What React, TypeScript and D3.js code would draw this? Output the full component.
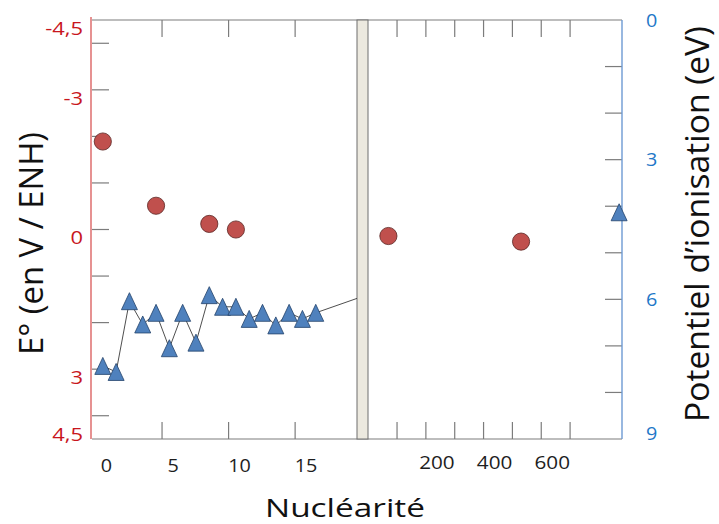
import React from 'react';
import * as d3 from 'd3';

// Ag_n clusters: ionisation potential (triangles, right axis) and E° (circles, left axis)
const nucSmall = [1, 2, 3, 4, 5, 6, 7, 8, 9, 10, 11, 12, 13, 14, 15, 16, 17];
const ipSmall = [7.43, 7.56, 6.04, 6.54, 6.29, 7.05, 6.29, 6.93, 5.91, 6.16, 6.16, 6.42, 6.29, 6.56, 6.29, 6.42, 6.29];
const ipAtBreak = 5.98; // the line heads on past the break
const nucCircSmall = [1, 5, 9, 11];
const eCircSmall = [-1.89, -0.51, -0.12, 0.0];
const nucCircLarge = [70, 530];
const eCircLarge = [0.14, 0.26];
const nucBulk = [870];
const ipBulk = [4.13];

const xTicksSmall = [5, 10, 15];
const xLabelsSmall = [0, 5, 10, 15];
const xTicksLarge = [100, 200, 300, 400, 500, 600, 700];
const xLabelsLarge = [200, 400, 600];
const eTicks = [-4, -3, -2, -1, 0, 1, 2, 3, 4];
const eLabels = [-4.5, -3, 0, 3, 4.5];
const ipTicks = [1, 2, 3, 4, 5, 6, 7, 8];
const ipLabels = [0, 3, 6, 9];

const W = 719;
const H = 524;
const top = 20;
const bottom = 439;
const frameLeft = 92;
const breakL = 357;
const breakR = 368;
const frameRight = 622;

const RED = '#c8161d';
const BLUE = '#1f78c8';
const GRID = '#7c7c7c';
const FONT = '"Open Sans", sans-serif';

const xSmall = d3.scaleLinear().domain([0, 20.1]).range([89.5, breakL]);
const xLarge = d3.scaleLinear().domain([0, 880]).range([breakR + 0.2, frameRight]);
const yE = d3.scaleLinear().domain([-4.5, 4.5]).range([top, bottom]);
const yIP = d3.scaleLinear().domain([0, 9]).range([top, bottom]);

const triW = 16;
const triH = 17;
const triPath = `M0,${-triH / 2}L${triW / 2},${triH / 2}L${-triW / 2},${triH / 2}Z`;

const fmt = (v: number) => String(v).replace('.', ',');

const Tri = ({ x, y }: { x: number; y: number }) => (
  <path d={triPath} transform={`translate(${x},${y})`} fill="#4f81bd" stroke="#23426b" strokeWidth={0.8} />
);
const Dot = ({ x, y }: { x: number; y: number }) => (
  <circle cx={x} cy={y} r={8.6} fill="#c0504d" stroke="#5a2422" strokeWidth={0.8} />
);

export default function App() {
  const linePts: [number, number][] = nucSmall.map((n, i) => [xSmall(n), yIP(ipSmall[i])]);
  linePts.push([xSmall(20.1), yIP(ipAtBreak)]);
  const line = d3.line();

  const tickLen = 17;
  const xTickShift = 6;
  const xLabelShift = 17;
  const xLabelLargeShift = 11;

  return (
    <svg width={W} height={H} style={{ position: 'absolute', left: 0, top: 0, background: '#fff' }} fontFamily={FONT}>
      {/* frame */}
      <line x1={frameLeft} x2={frameRight} y1={top} y2={top} stroke={GRID} strokeWidth={1.2} />
      <line x1={frameLeft} x2={frameRight} y1={bottom} y2={bottom} stroke={GRID} strokeWidth={1.2} />

      {/* break bar */}
      <rect x={breakL} y={top} width={breakR - breakL} height={bottom - top} fill="#ece9df" stroke="#6e6e6e" strokeWidth={1} />

      {/* x ticks, top and bottom */}
      {xTicksSmall.map((v) => (
        <g key={'xs' + v}>
          <line x1={xSmall(v) + xTickShift} x2={xSmall(v) + xTickShift} y1={top} y2={top + tickLen} stroke={GRID} strokeWidth={1.2} />
          <line x1={xSmall(v) + xTickShift} x2={xSmall(v) + xTickShift} y1={bottom} y2={bottom - tickLen} stroke={GRID} strokeWidth={1.2} />
        </g>
      ))}
      {xTicksLarge.map((v) => (
        <g key={'xl' + v}>
          <line x1={xLarge(v)} x2={xLarge(v)} y1={top} y2={top + tickLen} stroke={GRID} strokeWidth={1.2} />
          <line x1={xLarge(v)} x2={xLarge(v)} y1={bottom} y2={bottom - tickLen} stroke={GRID} strokeWidth={1.2} />
        </g>
      ))}

      {/* y ticks */}
      {eTicks.map((v) => (
        <line key={'e' + v} x1={frameLeft} x2={frameLeft + tickLen} y1={yE(v)} y2={yE(v)} stroke={GRID} strokeWidth={1.2} />
      ))}
      {ipTicks.map((v) => (
        <line key={'ip' + v} x1={frameRight - tickLen} x2={frameRight} y1={yIP(v)} y2={yIP(v)} stroke={GRID} strokeWidth={1.2} />
      ))}

      {/* axis lines */}
      <line x1={91} x2={91} y1={17} y2={bottom} stroke="#e07676" strokeWidth={1.6} />
      <line x1={frameRight} x2={frameRight} y1={top} y2={bottom} stroke="#6d9ad3" strokeWidth={1.4} />

      {/* data */}
      <path d={line(linePts) || ''} fill="none" stroke="#3a3a3a" strokeWidth={0.9} />
      {nucCircSmall.map((n, i) => (
        <Dot key={'cs' + i} x={xSmall(n)} y={yE(eCircSmall[i])} />
      ))}
      {nucCircLarge.map((n, i) => (
        <Dot key={'cl' + i} x={xLarge(n)} y={yE(eCircLarge[i])} />
      ))}
      {nucSmall.map((n, i) => (
        <Tri key={'t' + i} x={xSmall(n)} y={yIP(ipSmall[i])} />
      ))}
      {nucBulk.map((n, i) => (
        <Tri key={'tb' + i} x={xLarge(n)} y={yIP(ipBulk[i])} />
      ))}

      {/* tick labels */}
      {xLabelsSmall.map((v) => (
        <text key={'lxs' + v} transform={`translate(${xSmall(v) + xLabelShift},472) scale(1.1,1)`} textAnchor="middle" fontSize={18} fill="#1e1e1e">
          {v}
        </text>
      ))}
      {xLabelsLarge.map((v) => (
        <text key={'lxl' + v} transform={`translate(${xLarge(v) + xLabelLargeShift},469) scale(1.15,1)`} textAnchor="middle" fontSize={18} fill="#1e1e1e">
          {v}
        </text>
      ))}
      {eLabels.map((v) => (
        <text key={'le' + v} transform={`translate(83,${Math.min(yE(v) + 8, 434)}) scale(1.22,1)`} textAnchor="end" dominantBaseline="central" fontSize={18} fill={RED}>
          {fmt(v)}
        </text>
      ))}
      {ipLabels.map((v) => (
        <text key={'lip' + v} transform={`translate(646,${Math.min(yIP(v), 433)}) scale(1.1,1)`} textAnchor="start" dominantBaseline="central" fontSize={18} fill={BLUE}>
          {v}
        </text>
      ))}

      {/* titles */}
      <text x={345} y={517} textAnchor="middle" fontSize={25} fill="#111" textLength={160} lengthAdjust="spacingAndGlyphs">
        Nucléarité
      </text>
      <text transform="translate(43,243.5) rotate(-90)" textAnchor="middle" fontSize={33} fill="#111" textLength={223} lengthAdjust="spacingAndGlyphs">
        E° (en V / ENH)
      </text>
      <text transform="translate(709,224) rotate(-90)" textAnchor="middle" fontSize={32} fill="#111" textLength={396} lengthAdjust="spacingAndGlyphs">
        Potentiel d’ionisation (eV)
      </text>
    </svg>
  );
}
